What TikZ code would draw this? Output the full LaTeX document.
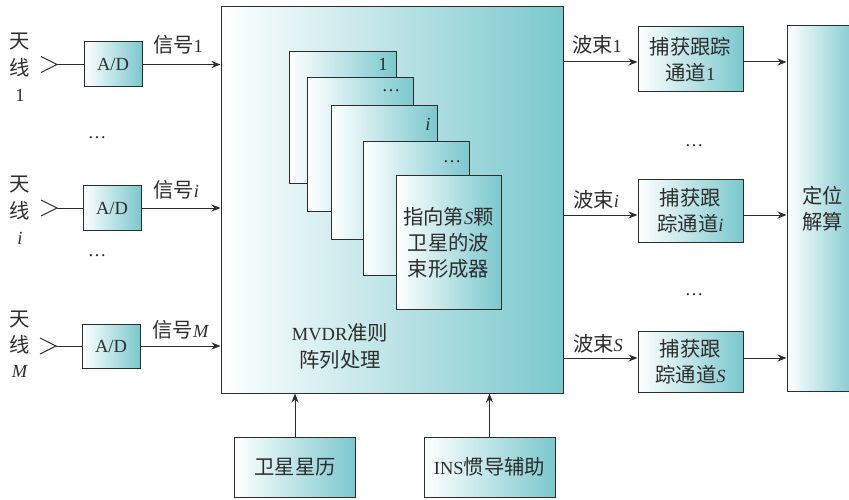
\documentclass[tikz,border=0pt]{standalone}
\usepackage{fontspec}
\setmainfont{Liberation Serif}
\newfontfamily\cjk[Scale=1.1]{Noto Sans CJK SC}
\usetikzlibrary{arrows.meta}
\definecolor{tealc}{RGB}{122,200,205}
\definecolor{ln}{RGB}{45,45,45}
\newcommand\zhtxt[1]{{\cjk #1}}
\tikzset{
 gbox/.style={draw=ln, line width=1pt, left color=white, right color=tealc, inner sep=0pt, align=center, font=\fontsize{18.5}{26}\selectfont, text=ln},
 arr/.style={draw=ln, line width=1pt, -{Stealth[length=9pt,width=7pt]}},
 wire/.style={draw=ln, line width=1pt},
 lbl/.style={inner sep=0pt, font=\fontsize{18.5}{27}\selectfont, text=ln},
}
\begin{document}
\begin{tikzpicture}[x=1pt,y=-1pt]
\useasboundingbox (0,0) rectangle (849,500);
% main box
\node[gbox, minimum width=342, minimum height=386] (main) at (392,200) {};
\node[lbl, align=center] (mvdr) at (340,346) {MVDR\zhtxt{准则}\\\zhtxt{阵列处理}};
% stacked beamformers
\node[gbox, minimum width=107, minimum height=132] (s1) at (342.5,118) {};
\node[lbl] (t1) at (383,64) {1};
\node[gbox, minimum width=106, minimum height=133] (s2) at (360,144.5) {};
\node[lbl] (t2) at (391,91) {\dots};
\node[gbox, minimum width=106, minimum height=133] (s3) at (384,172.5) {};
\node[lbl] (t3) at (428,124) {\textit{i}};
\node[gbox, minimum width=106, minimum height=133] (s4) at (416,208.5) {};
\node[lbl] (t4) at (452,162) {\dots};
\node[gbox, minimum width=105, minimum height=133] (s5) at (448.5,242.5) {\zhtxt{指向第}\textit{S}\zhtxt{颗}\\\zhtxt{卫星的波}\\\zhtxt{束形成器}};
% antennas and A/D
\node[lbl] (a1a) at (20,42) {\zhtxt{天}};
\node[lbl] (a1b) at (20,68) {\zhtxt{线}};
\node[lbl] (a1c) at (20,95) {1};
\node[lbl] (aia) at (20,185) {\zhtxt{天}};
\node[lbl] (aib) at (20,211) {\zhtxt{线}};
\node[lbl] (aic) at (20,238) {\textit{i}};
\node[lbl] (ama) at (20,320) {\zhtxt{天}};
\node[lbl] (amb) at (20,345) {\zhtxt{线}};
\node[lbl] (amc) at (20,371) {\textit{M}};
\node[gbox, minimum width=58, minimum height=45] (ad1) at (113,64.5) {A/D};
\node[gbox, minimum width=58, minimum height=45] (adi) at (112,208) {A/D};
\node[gbox, minimum width=58, minimum height=44] (adM) at (111,346) {A/D};
\coordinate (ant1) at (57,64.5);
\coordinate (anti) at (57,208);
\coordinate (antM) at (56,346);
\draw[wire] (41,56.5) -- (ant1) -- (41,72.5);
\draw[wire] (41,200) -- (anti) -- (41,216);
\draw[wire] (40,338) -- (antM) -- (40,354);
\draw[wire] (ant1) -- (ad1.west);
\draw[wire] (anti) -- (adi.west);
\draw[wire] (antM) -- (adM.west);
\draw[arr] (ad1.east) -- (ad1.east -| main.west);
\draw[arr] (adi.east) -- (adi.east -| main.west);
\draw[arr] (adM.east) -- (adM.east -| main.west);
\node[lbl] (sig1) at (178,45) {\zhtxt{信号}1};
\node[lbl] (sigi) at (176,190) {\zhtxt{信号}\textit{i}};
\node[lbl] (sigM) at (181,330) {\zhtxt{信号}\textit{M}};
\node[lbl] (d1) at (97,138) {\dots};
\node[lbl] (d2) at (97,256) {\dots};
% bottom inputs
\node[gbox, minimum width=121, minimum height=60] (eph) at (295,467) {\zhtxt{卫星星历}};
\node[gbox, minimum width=131, minimum height=60] (ins) at (489.5,467) {INS\zhtxt{惯导辅助}};
\draw[arr] (eph.north) -- (eph.north |- main.south);
\draw[arr] (ins.north) -- (ins.north |- main.south);
% channels
\node[gbox, minimum width=105, minimum height=65] (ch1) at (690.5,59.5) {\zhtxt{捕获跟踪}\\\zhtxt{通道}1};
\node[gbox, minimum width=105, minimum height=63] (chi) at (690.5,211) {\zhtxt{捕获跟}\\\zhtxt{踪通道}\textit{i}};
\node[gbox, minimum width=105, minimum height=61] (chS) at (690.5,361.5) {\zhtxt{捕获跟}\\\zhtxt{踪通道}\textit{S}};
\node[gbox, minimum width=71, minimum height=365] (pos) at (822.5,208.5) {\zhtxt{定位}\\\zhtxt{解算}};
\coordinate (b1) at (main.east |- 0,62);
\coordinate (bi) at (main.east |- 0,215);
\coordinate (bS) at (main.east |- 0,358);
\draw[arr] (b1) -- (b1 -| ch1.west);
\draw[arr] (bi) -- (bi -| chi.west);
\draw[arr] (bS) -- (bS -| chS.west);
\draw[arr] (ch1.east |- b1) -- (b1 -| pos.west);
\draw[arr] (chi.east |- bi) -- (bi -| pos.west);
\draw[arr] (chS.east |- bS) -- (bS -| pos.west);
\node[lbl] (bl1) at (597,45) {\zhtxt{波束}1};
\node[lbl] (bli) at (596,200) {\zhtxt{波束}\textit{i}};
\node[lbl] (blS) at (598,344) {\zhtxt{波束}\textit{S}};
\node[lbl] (d3) at (694,146) {\dots};
\node[lbl] (d4) at (694,295) {\dots};
\end{tikzpicture}
\end{document}
